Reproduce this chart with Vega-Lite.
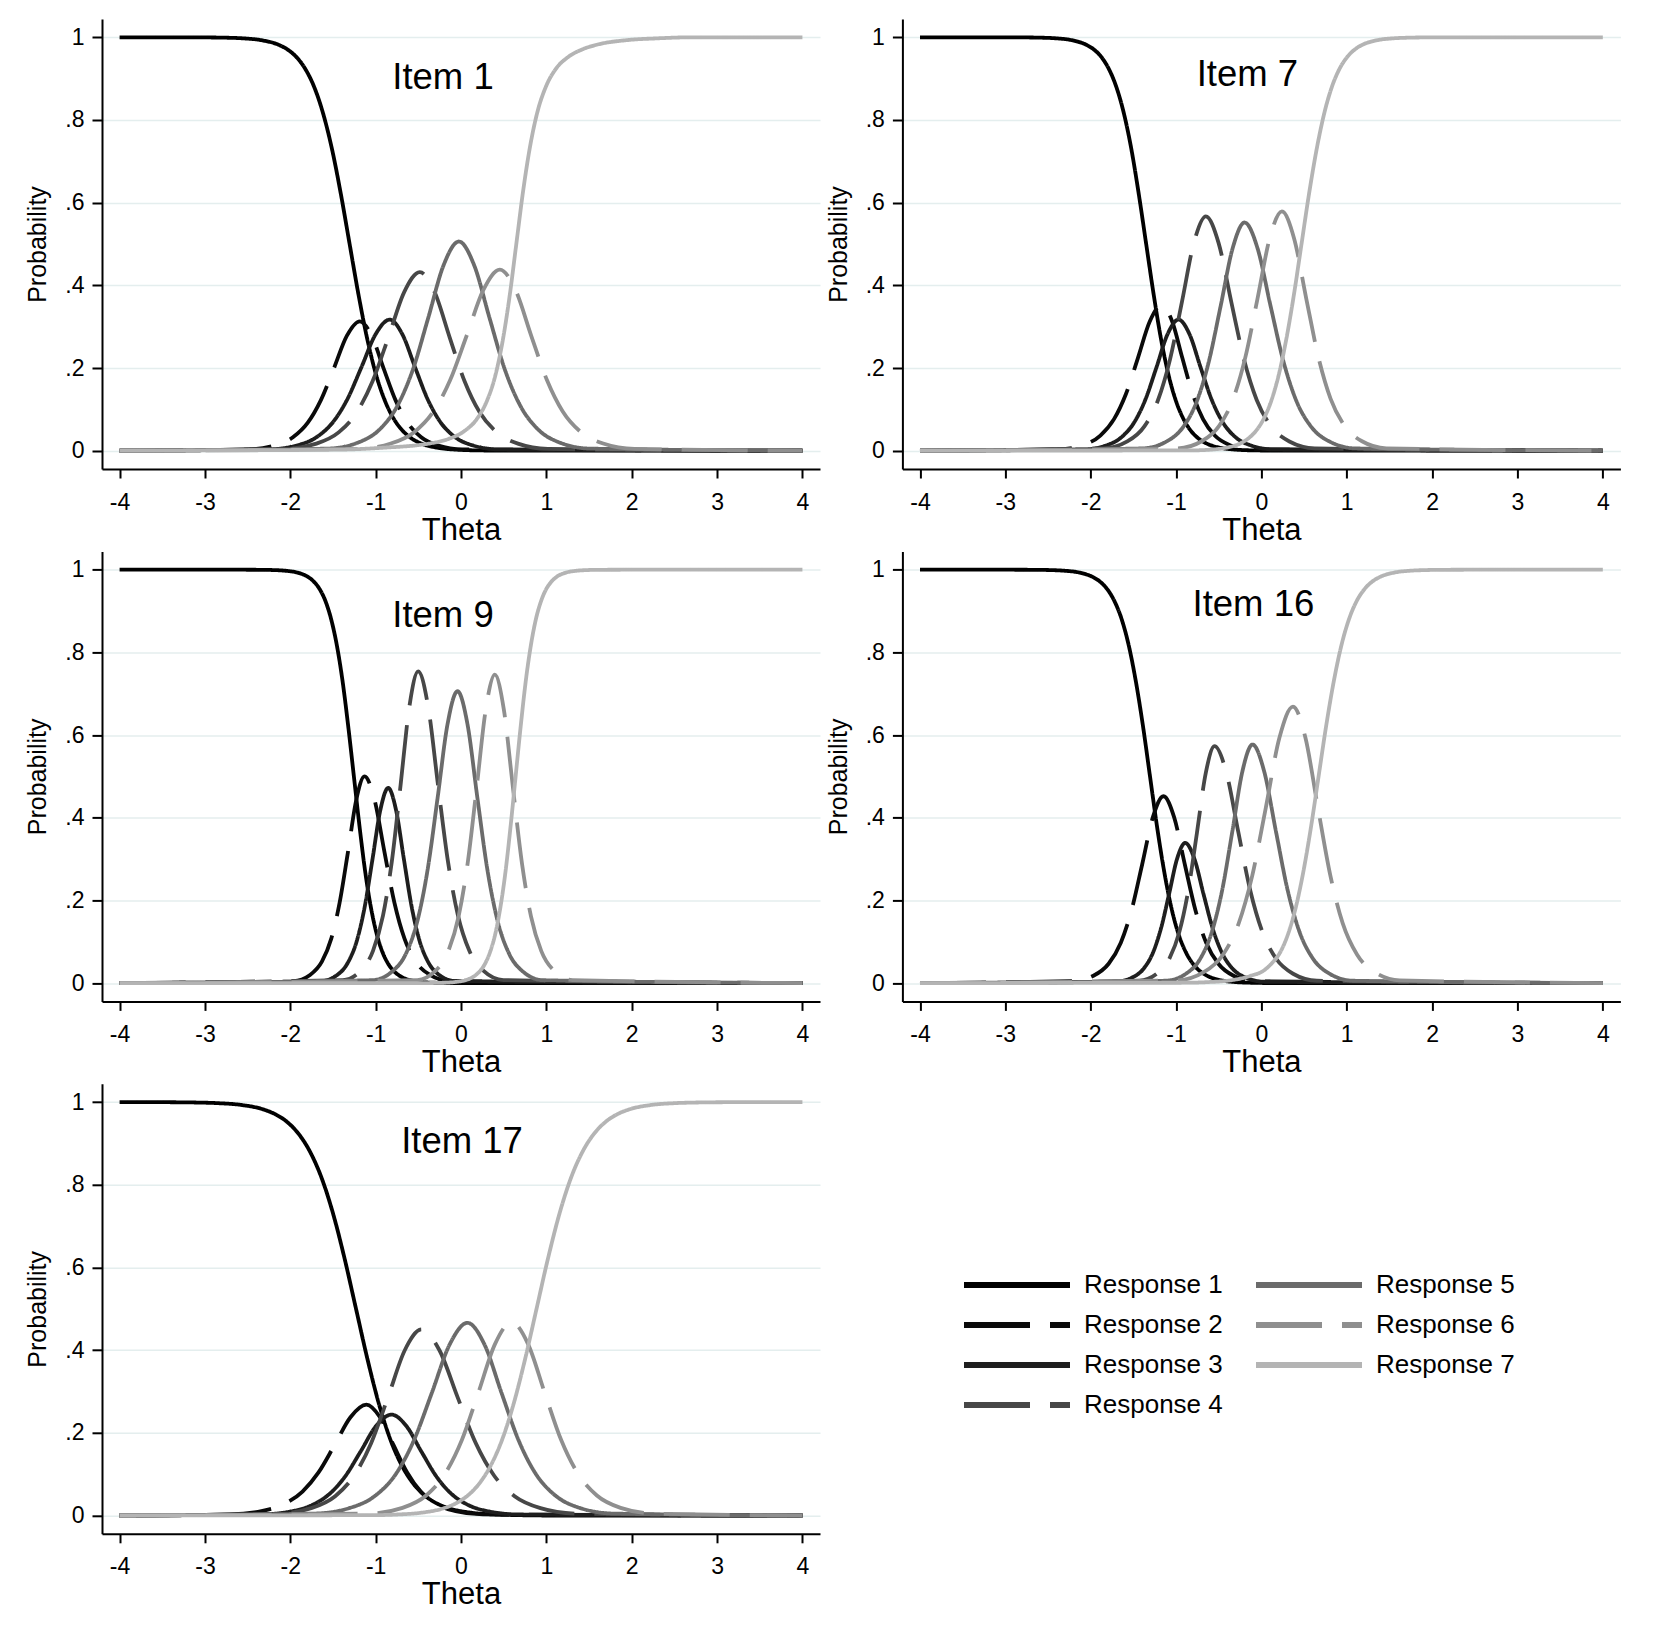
{
"$schema":"https://vega.github.io/schema/vega-lite/v6.json",
"background":"white",
"padding":{"left":25,"top":19,"right":5,"bottom":5},
"autosize":{"type":"pad"},
"columns":2,
"spacing":82.4,
"bounds":"flush",
"data":{"values":[
{"item":1,"resp":1,"theta":-4,"prob":1},{"item":1,"resp":1,"theta":-3.2,"prob":1},{"item":1,"resp":1,"theta":-2.97,"prob":0.9997},{"item":1,"resp":1,"theta":-2.763,"prob":0.9991},{"item":1,"resp":1,"theta":-2.555,"prob":0.9975},{"item":1,"resp":1,"theta":-2.347,"prob":0.9933},{"item":1,"resp":1,"theta":-2.138,"prob":0.982},{"item":1,"resp":1,"theta":-2.034,"prob":0.9707},{"item":1,"resp":1,"theta":-1.93,"prob":0.9526},{"item":1,"resp":1,"theta":-1.826,"prob":0.9241},{"item":1,"resp":1,"theta":-1.722,"prob":0.8808},{"item":1,"resp":1,"theta":-1.618,"prob":0.8176},{"item":1,"resp":1,"theta":-1.513,"prob":0.7311},{"item":1,"resp":1,"theta":-1.409,"prob":0.6225},{"item":1,"resp":1,"theta":-1.305,"prob":0.5},{"item":1,"resp":1,"theta":-1.201,"prob":0.3775},{"item":1,"resp":1,"theta":-1.097,"prob":0.2689},{"item":1,"resp":1,"theta":-0.993,"prob":0.1824},{"item":1,"resp":1,"theta":-0.888,"prob":0.1192},{"item":1,"resp":1,"theta":-0.784,"prob":0.0759},{"item":1,"resp":1,"theta":-0.68,"prob":0.0474},{"item":1,"resp":1,"theta":-0.576,"prob":0.0293},{"item":1,"resp":1,"theta":-0.472,"prob":0.018},{"item":1,"resp":1,"theta":-0.263,"prob":0.0067},{"item":1,"resp":1,"theta":-0.055,"prob":0.0025},{"item":1,"resp":1,"theta":0.153,"prob":0.0009},{"item":1,"resp":1,"theta":0.6,"prob":0},{"item":1,"resp":1,"theta":4,"prob":0},
{"item":1,"resp":2,"theta":-4,"prob":0},{"item":1,"resp":2,"theta":-2.49,"prob":0.0031},{"item":1,"resp":2,"theta":-2.186,"prob":0.0123},{"item":1,"resp":2,"theta":-1.969,"prob":0.0324},{"item":1,"resp":2,"theta":-1.795,"prob":0.0677},{"item":1,"resp":2,"theta":-1.643,"prob":0.1217},{"item":1,"resp":2,"theta":-1.49,"prob":0.1987},{"item":1,"resp":2,"theta":-1.338,"prob":0.2776},{"item":1,"resp":2,"theta":-1.186,"prob":0.313},{"item":1,"resp":2,"theta":-1.046,"prob":0.2776},{"item":1,"resp":2,"theta":-0.906,"prob":0.1987},{"item":1,"resp":2,"theta":-0.766,"prob":0.1217},{"item":1,"resp":2,"theta":-0.626,"prob":0.0677},{"item":1,"resp":2,"theta":-0.466,"prob":0.0324},{"item":1,"resp":2,"theta":-0.266,"prob":0.0123},{"item":1,"resp":2,"theta":0.014,"prob":0.0031},{"item":1,"resp":2,"theta":4,"prob":0},
{"item":1,"resp":3,"theta":-4,"prob":0},{"item":1,"resp":3,"theta":-2.264,"prob":0.0031},{"item":1,"resp":3,"theta":-1.93,"prob":0.0125},{"item":1,"resp":3,"theta":-1.692,"prob":0.0328},{"item":1,"resp":3,"theta":-1.502,"prob":0.0685},{"item":1,"resp":3,"theta":-1.335,"prob":0.1232},{"item":1,"resp":3,"theta":-1.168,"prob":0.2012},{"item":1,"resp":3,"theta":-1.002,"prob":0.2811},{"item":1,"resp":3,"theta":-0.835,"prob":0.317},{"item":1,"resp":3,"theta":-0.686,"prob":0.2811},{"item":1,"resp":3,"theta":-0.537,"prob":0.2012},{"item":1,"resp":3,"theta":-0.388,"prob":0.1232},{"item":1,"resp":3,"theta":-0.239,"prob":0.0685},{"item":1,"resp":3,"theta":-0.069,"prob":0.0328},{"item":1,"resp":3,"theta":0.144,"prob":0.0125},{"item":1,"resp":3,"theta":0.442,"prob":0.0031},{"item":1,"resp":3,"theta":4,"prob":0},
{"item":1,"resp":4,"theta":-4,"prob":0},{"item":1,"resp":4,"theta":-2.062,"prob":0.0043},{"item":1,"resp":4,"theta":-1.694,"prob":0.017},{"item":1,"resp":4,"theta":-1.43,"prob":0.0448},{"item":1,"resp":4,"theta":-1.22,"prob":0.0934},{"item":1,"resp":4,"theta":-1.036,"prob":0.168},{"item":1,"resp":4,"theta":-0.851,"prob":0.2742},{"item":1,"resp":4,"theta":-0.667,"prob":0.3831},{"item":1,"resp":4,"theta":-0.483,"prob":0.432},{"item":1,"resp":4,"theta":-0.308,"prob":0.3831},{"item":1,"resp":4,"theta":-0.133,"prob":0.2742},{"item":1,"resp":4,"theta":0.042,"prob":0.168},{"item":1,"resp":4,"theta":0.217,"prob":0.0934},{"item":1,"resp":4,"theta":0.417,"prob":0.0448},{"item":1,"resp":4,"theta":0.667,"prob":0.017},{"item":1,"resp":4,"theta":1.017,"prob":0.0043},{"item":1,"resp":4,"theta":4,"prob":0},
{"item":1,"resp":5,"theta":-4,"prob":0},{"item":1,"resp":5,"theta":-1.563,"prob":0.005},{"item":1,"resp":5,"theta":-1.204,"prob":0.0199},{"item":1,"resp":5,"theta":-0.948,"prob":0.0524},{"item":1,"resp":5,"theta":-0.743,"prob":0.1094},{"item":1,"resp":5,"theta":-0.563,"prob":0.1967},{"item":1,"resp":5,"theta":-0.384,"prob":0.3212},{"item":1,"resp":5,"theta":-0.204,"prob":0.4487},{"item":1,"resp":5,"theta":-0.025,"prob":0.506},{"item":1,"resp":5,"theta":0.154,"prob":0.4487},{"item":1,"resp":5,"theta":0.334,"prob":0.3212},{"item":1,"resp":5,"theta":0.513,"prob":0.1967},{"item":1,"resp":5,"theta":0.693,"prob":0.1094},{"item":1,"resp":5,"theta":0.898,"prob":0.0524},{"item":1,"resp":5,"theta":1.154,"prob":0.0199},{"item":1,"resp":5,"theta":1.513,"prob":0.005},{"item":1,"resp":5,"theta":4,"prob":0},
{"item":1,"resp":6,"theta":-4,"prob":0},{"item":1,"resp":6,"theta":-1.212,"prob":0.0043},{"item":1,"resp":6,"theta":-0.823,"prob":0.0173},{"item":1,"resp":6,"theta":-0.545,"prob":0.0454},{"item":1,"resp":6,"theta":-0.323,"prob":0.0947},{"item":1,"resp":6,"theta":-0.128,"prob":0.1703},{"item":1,"resp":6,"theta":0.066,"prob":0.278},{"item":1,"resp":6,"theta":0.261,"prob":0.3884},{"item":1,"resp":6,"theta":0.455,"prob":0.438},{"item":1,"resp":6,"theta":0.639,"prob":0.3884},{"item":1,"resp":6,"theta":0.823,"prob":0.278},{"item":1,"resp":6,"theta":1.008,"prob":0.1703},{"item":1,"resp":6,"theta":1.192,"prob":0.0947},{"item":1,"resp":6,"theta":1.402,"prob":0.0454},{"item":1,"resp":6,"theta":1.666,"prob":0.0173},{"item":1,"resp":6,"theta":2.034,"prob":0.0043},{"item":1,"resp":6,"theta":4,"prob":0},
{"item":1,"resp":7,"theta":-4,"prob":0},{"item":1,"resp":7,"theta":-1.45,"prob":0.0025},{"item":1,"resp":7,"theta":-0.952,"prob":0.0067},{"item":1,"resp":7,"theta":-0.352,"prob":0.018},{"item":1,"resp":7,"theta":-0.135,"prob":0.0293},{"item":1,"resp":7,"theta":0.039,"prob":0.0474},{"item":1,"resp":7,"theta":0.183,"prob":0.0759},{"item":1,"resp":7,"theta":0.301,"prob":0.1192},{"item":1,"resp":7,"theta":0.403,"prob":0.1824},{"item":1,"resp":7,"theta":0.491,"prob":0.2689},{"item":1,"resp":7,"theta":0.572,"prob":0.3775},{"item":1,"resp":7,"theta":0.648,"prob":0.5},{"item":1,"resp":7,"theta":0.724,"prob":0.6225},{"item":1,"resp":7,"theta":0.805,"prob":0.7311},{"item":1,"resp":7,"theta":0.893,"prob":0.8176},{"item":1,"resp":7,"theta":0.995,"prob":0.8808},{"item":1,"resp":7,"theta":1.113,"prob":0.9241},{"item":1,"resp":7,"theta":1.257,"prob":0.9526},{"item":1,"resp":7,"theta":1.42,"prob":0.9707},{"item":1,"resp":7,"theta":1.59,"prob":0.982},{"item":1,"resp":7,"theta":1.95,"prob":0.9933},{"item":1,"resp":7,"theta":2.3,"prob":0.9975},{"item":1,"resp":7,"theta":2.7,"prob":1},{"item":1,"resp":7,"theta":4,"prob":1},
{"item":7,"resp":1,"theta":-4,"prob":1},{"item":7,"resp":1,"theta":-3,"prob":1},{"item":7,"resp":1,"theta":-2.753,"prob":0.9997},{"item":7,"resp":1,"theta":-2.578,"prob":0.9991},{"item":7,"resp":1,"theta":-2.403,"prob":0.9975},{"item":7,"resp":1,"theta":-2.227,"prob":0.9933},{"item":7,"resp":1,"theta":-2.052,"prob":0.982},{"item":7,"resp":1,"theta":-1.964,"prob":0.9707},{"item":7,"resp":1,"theta":-1.876,"prob":0.9526},{"item":7,"resp":1,"theta":-1.789,"prob":0.9241},{"item":7,"resp":1,"theta":-1.701,"prob":0.8808},{"item":7,"resp":1,"theta":-1.613,"prob":0.8176},{"item":7,"resp":1,"theta":-1.525,"prob":0.7311},{"item":7,"resp":1,"theta":-1.438,"prob":0.6225},{"item":7,"resp":1,"theta":-1.35,"prob":0.5},{"item":7,"resp":1,"theta":-1.262,"prob":0.3775},{"item":7,"resp":1,"theta":-1.175,"prob":0.2689},{"item":7,"resp":1,"theta":-1.087,"prob":0.1824},{"item":7,"resp":1,"theta":-0.999,"prob":0.1192},{"item":7,"resp":1,"theta":-0.911,"prob":0.0759},{"item":7,"resp":1,"theta":-0.824,"prob":0.0474},{"item":7,"resp":1,"theta":-0.736,"prob":0.0293},{"item":7,"resp":1,"theta":-0.648,"prob":0.018},{"item":7,"resp":1,"theta":-0.473,"prob":0.0067},{"item":7,"resp":1,"theta":-0.297,"prob":0.0025},{"item":7,"resp":1,"theta":-0.122,"prob":0.0009},{"item":7,"resp":1,"theta":0.3,"prob":0},{"item":7,"resp":1,"theta":4,"prob":0},
{"item":7,"resp":2,"theta":-4,"prob":0},{"item":7,"resp":2,"theta":-2.367,"prob":0.0035},{"item":7,"resp":2,"theta":-2.087,"prob":0.0139},{"item":7,"resp":2,"theta":-1.887,"prob":0.0366},{"item":7,"resp":2,"theta":-1.727,"prob":0.0763},{"item":7,"resp":2,"theta":-1.587,"prob":0.1372},{"item":7,"resp":2,"theta":-1.447,"prob":0.224},{"item":7,"resp":2,"theta":-1.307,"prob":0.313},{"item":7,"resp":2,"theta":-1.167,"prob":0.353},{"item":7,"resp":2,"theta":-1.046,"prob":0.313},{"item":7,"resp":2,"theta":-0.926,"prob":0.224},{"item":7,"resp":2,"theta":-0.805,"prob":0.1372},{"item":7,"resp":2,"theta":-0.684,"prob":0.0763},{"item":7,"resp":2,"theta":-0.546,"prob":0.0366},{"item":7,"resp":2,"theta":-0.374,"prob":0.0139},{"item":7,"resp":2,"theta":-0.133,"prob":0.0035},{"item":7,"resp":2,"theta":4,"prob":0},
{"item":7,"resp":3,"theta":-4,"prob":0},{"item":7,"resp":3,"theta":-2.082,"prob":0.0031},{"item":7,"resp":3,"theta":-1.823,"prob":0.0125},{"item":7,"resp":3,"theta":-1.638,"prob":0.0328},{"item":7,"resp":3,"theta":-1.49,"prob":0.0685},{"item":7,"resp":3,"theta":-1.36,"prob":0.1232},{"item":7,"resp":3,"theta":-1.23,"prob":0.2012},{"item":7,"resp":3,"theta":-1.101,"prob":0.2811},{"item":7,"resp":3,"theta":-0.971,"prob":0.317},{"item":7,"resp":3,"theta":-0.841,"prob":0.2811},{"item":7,"resp":3,"theta":-0.712,"prob":0.2012},{"item":7,"resp":3,"theta":-0.582,"prob":0.1232},{"item":7,"resp":3,"theta":-0.452,"prob":0.0685},{"item":7,"resp":3,"theta":-0.304,"prob":0.0328},{"item":7,"resp":3,"theta":-0.119,"prob":0.0125},{"item":7,"resp":3,"theta":0.14,"prob":0.0031},{"item":7,"resp":3,"theta":4,"prob":0},
{"item":7,"resp":4,"theta":-4,"prob":0},{"item":7,"resp":4,"theta":-1.851,"prob":0.0056},{"item":7,"resp":4,"theta":-1.571,"prob":0.0223},{"item":7,"resp":4,"theta":-1.371,"prob":0.0587},{"item":7,"resp":4,"theta":-1.211,"prob":0.1226},{"item":7,"resp":4,"theta":-1.071,"prob":0.2204},{"item":7,"resp":4,"theta":-0.931,"prob":0.3599},{"item":7,"resp":4,"theta":-0.791,"prob":0.5028},{"item":7,"resp":4,"theta":-0.651,"prob":0.567},{"item":7,"resp":4,"theta":-0.502,"prob":0.5028},{"item":7,"resp":4,"theta":-0.353,"prob":0.3599},{"item":7,"resp":4,"theta":-0.204,"prob":0.2204},{"item":7,"resp":4,"theta":-0.055,"prob":0.1226},{"item":7,"resp":4,"theta":0.115,"prob":0.0587},{"item":7,"resp":4,"theta":0.328,"prob":0.0223},{"item":7,"resp":4,"theta":0.626,"prob":0.0056},{"item":7,"resp":4,"theta":4,"prob":0},
{"item":7,"resp":5,"theta":-4,"prob":0},{"item":7,"resp":5,"theta":-1.397,"prob":0.0054},{"item":7,"resp":5,"theta":-1.117,"prob":0.0217},{"item":7,"resp":5,"theta":-0.917,"prob":0.0572},{"item":7,"resp":5,"theta":-0.757,"prob":0.1193},{"item":7,"resp":5,"theta":-0.617,"prob":0.2146},{"item":7,"resp":5,"theta":-0.477,"prob":0.3504},{"item":7,"resp":5,"theta":-0.337,"prob":0.4895},{"item":7,"resp":5,"theta":-0.197,"prob":0.552},{"item":7,"resp":5,"theta":-0.045,"prob":0.4895},{"item":7,"resp":5,"theta":0.107,"prob":0.3504},{"item":7,"resp":5,"theta":0.26,"prob":0.2146},{"item":7,"resp":5,"theta":0.412,"prob":0.1193},{"item":7,"resp":5,"theta":0.586,"prob":0.0572},{"item":7,"resp":5,"theta":0.803,"prob":0.0217},{"item":7,"resp":5,"theta":1.107,"prob":0.0054},{"item":7,"resp":5,"theta":4,"prob":0},
{"item":7,"resp":6,"theta":-4,"prob":0},{"item":7,"resp":6,"theta":-0.984,"prob":0.0057},{"item":7,"resp":6,"theta":-0.699,"prob":0.0228},{"item":7,"resp":6,"theta":-0.495,"prob":0.06},{"item":7,"resp":6,"theta":-0.331,"prob":0.1252},{"item":7,"resp":6,"theta":-0.189,"prob":0.2251},{"item":7,"resp":6,"theta":-0.046,"prob":0.3675},{"item":7,"resp":6,"theta":0.097,"prob":0.5135},{"item":7,"resp":6,"theta":0.24,"prob":0.579},{"item":7,"resp":6,"theta":0.383,"prob":0.5135},{"item":7,"resp":6,"theta":0.526,"prob":0.3675},{"item":7,"resp":6,"theta":0.669,"prob":0.2251},{"item":7,"resp":6,"theta":0.811,"prob":0.1252},{"item":7,"resp":6,"theta":0.975,"prob":0.06},{"item":7,"resp":6,"theta":1.179,"prob":0.0228},{"item":7,"resp":6,"theta":1.464,"prob":0.0057},{"item":7,"resp":6,"theta":4,"prob":0},
{"item":7,"resp":7,"theta":-4,"prob":0},{"item":7,"resp":7,"theta":-0.78,"prob":0.0009},{"item":7,"resp":7,"theta":-0.601,"prob":0.0025},{"item":7,"resp":7,"theta":-0.423,"prob":0.0067},{"item":7,"resp":7,"theta":-0.244,"prob":0.018},{"item":7,"resp":7,"theta":-0.155,"prob":0.0293},{"item":7,"resp":7,"theta":-0.066,"prob":0.0474},{"item":7,"resp":7,"theta":0.024,"prob":0.0759},{"item":7,"resp":7,"theta":0.113,"prob":0.1192},{"item":7,"resp":7,"theta":0.202,"prob":0.1824},{"item":7,"resp":7,"theta":0.291,"prob":0.2689},{"item":7,"resp":7,"theta":0.381,"prob":0.3775},{"item":7,"resp":7,"theta":0.47,"prob":0.5},{"item":7,"resp":7,"theta":0.559,"prob":0.6225},{"item":7,"resp":7,"theta":0.649,"prob":0.7311},{"item":7,"resp":7,"theta":0.738,"prob":0.8176},{"item":7,"resp":7,"theta":0.827,"prob":0.8808},{"item":7,"resp":7,"theta":0.916,"prob":0.9241},{"item":7,"resp":7,"theta":1.006,"prob":0.9526},{"item":7,"resp":7,"theta":1.095,"prob":0.9707},{"item":7,"resp":7,"theta":1.184,"prob":0.982},{"item":7,"resp":7,"theta":1.363,"prob":0.9933},{"item":7,"resp":7,"theta":1.541,"prob":0.9975},{"item":7,"resp":7,"theta":1.72,"prob":0.9991},{"item":7,"resp":7,"theta":1.899,"prob":0.9997},{"item":7,"resp":7,"theta":2.3,"prob":1},{"item":7,"resp":7,"theta":4,"prob":1},
{"item":9,"resp":1,"theta":-4,"prob":1},{"item":9,"resp":1,"theta":-2.6,"prob":1},{"item":9,"resp":1,"theta":-2.322,"prob":0.9997},{"item":9,"resp":1,"theta":-2.188,"prob":0.9991},{"item":9,"resp":1,"theta":-2.055,"prob":0.9975},{"item":9,"resp":1,"theta":-1.922,"prob":0.9933},{"item":9,"resp":1,"theta":-1.788,"prob":0.982},{"item":9,"resp":1,"theta":-1.722,"prob":0.9707},{"item":9,"resp":1,"theta":-1.655,"prob":0.9526},{"item":9,"resp":1,"theta":-1.588,"prob":0.9241},{"item":9,"resp":1,"theta":-1.522,"prob":0.8808},{"item":9,"resp":1,"theta":-1.455,"prob":0.8176},{"item":9,"resp":1,"theta":-1.388,"prob":0.7311},{"item":9,"resp":1,"theta":-1.322,"prob":0.6225},{"item":9,"resp":1,"theta":-1.255,"prob":0.5},{"item":9,"resp":1,"theta":-1.188,"prob":0.3775},{"item":9,"resp":1,"theta":-1.122,"prob":0.2689},{"item":9,"resp":1,"theta":-1.055,"prob":0.1824},{"item":9,"resp":1,"theta":-0.988,"prob":0.1192},{"item":9,"resp":1,"theta":-0.922,"prob":0.0759},{"item":9,"resp":1,"theta":-0.855,"prob":0.0474},{"item":9,"resp":1,"theta":-0.788,"prob":0.0293},{"item":9,"resp":1,"theta":-0.722,"prob":0.018},{"item":9,"resp":1,"theta":-0.588,"prob":0.0067},{"item":9,"resp":1,"theta":-0.455,"prob":0.0025},{"item":9,"resp":1,"theta":-0.322,"prob":0.0009},{"item":9,"resp":1,"theta":0,"prob":0},{"item":9,"resp":1,"theta":4,"prob":0},
{"item":9,"resp":2,"theta":-4,"prob":0},{"item":9,"resp":2,"theta":-1.963,"prob":0.0049},{"item":9,"resp":2,"theta":-1.769,"prob":0.0197},{"item":9,"resp":2,"theta":-1.63,"prob":0.0518},{"item":9,"resp":2,"theta":-1.519,"prob":0.1081},{"item":9,"resp":2,"theta":-1.422,"prob":0.1944},{"item":9,"resp":2,"theta":-1.324,"prob":0.3174},{"item":9,"resp":2,"theta":-1.227,"prob":0.4434},{"item":9,"resp":2,"theta":-1.13,"prob":0.5},{"item":9,"resp":2,"theta":-1.013,"prob":0.4434},{"item":9,"resp":2,"theta":-0.897,"prob":0.3174},{"item":9,"resp":2,"theta":-0.78,"prob":0.1944},{"item":9,"resp":2,"theta":-0.663,"prob":0.1081},{"item":9,"resp":2,"theta":-0.53,"prob":0.0518},{"item":9,"resp":2,"theta":-0.363,"prob":0.0197},{"item":9,"resp":2,"theta":-0.13,"prob":0.0049},{"item":9,"resp":2,"theta":4,"prob":0},
{"item":9,"resp":3,"theta":-4,"prob":0},{"item":9,"resp":3,"theta":-1.642,"prob":0.0047},{"item":9,"resp":3,"theta":-1.458,"prob":0.0186},{"item":9,"resp":3,"theta":-1.327,"prob":0.0489},{"item":9,"resp":3,"theta":-1.221,"prob":0.102},{"item":9,"resp":3,"theta":-1.129,"prob":0.1835},{"item":9,"resp":3,"theta":-1.037,"prob":0.2996},{"item":9,"resp":3,"theta":-0.945,"prob":0.4186},{"item":9,"resp":3,"theta":-0.853,"prob":0.472},{"item":9,"resp":3,"theta":-0.761,"prob":0.4186},{"item":9,"resp":3,"theta":-0.669,"prob":0.2996},{"item":9,"resp":3,"theta":-0.577,"prob":0.1835},{"item":9,"resp":3,"theta":-0.485,"prob":0.102},{"item":9,"resp":3,"theta":-0.379,"prob":0.0489},{"item":9,"resp":3,"theta":-0.248,"prob":0.0186},{"item":9,"resp":3,"theta":-0.064,"prob":0.0047},{"item":9,"resp":3,"theta":4,"prob":0},
{"item":9,"resp":4,"theta":-4,"prob":0},{"item":9,"resp":4,"theta":-1.384,"prob":0.0074},{"item":9,"resp":4,"theta":-1.178,"prob":0.0297},{"item":9,"resp":4,"theta":-1.031,"prob":0.0781},{"item":9,"resp":4,"theta":-0.914,"prob":0.163},{"item":9,"resp":4,"theta":-0.811,"prob":0.2932},{"item":9,"resp":4,"theta":-0.708,"prob":0.4786},{"item":9,"resp":4,"theta":-0.605,"prob":0.6686},{"item":9,"resp":4,"theta":-0.502,"prob":0.754},{"item":9,"resp":4,"theta":-0.385,"prob":0.6686},{"item":9,"resp":4,"theta":-0.269,"prob":0.4786},{"item":9,"resp":4,"theta":-0.152,"prob":0.2932},{"item":9,"resp":4,"theta":-0.035,"prob":0.163},{"item":9,"resp":4,"theta":0.098,"prob":0.0781},{"item":9,"resp":4,"theta":0.265,"prob":0.0297},{"item":9,"resp":4,"theta":0.498,"prob":0.0074},{"item":9,"resp":4,"theta":4,"prob":0},
{"item":9,"resp":5,"theta":-4,"prob":0},{"item":9,"resp":5,"theta":-1.041,"prob":0.007},{"item":9,"resp":5,"theta":-0.808,"prob":0.0278},{"item":9,"resp":5,"theta":-0.641,"prob":0.0731},{"item":9,"resp":5,"theta":-0.508,"prob":0.1526},{"item":9,"resp":5,"theta":-0.391,"prob":0.2745},{"item":9,"resp":5,"theta":-0.274,"prob":0.4481},{"item":9,"resp":5,"theta":-0.158,"prob":0.6261},{"item":9,"resp":5,"theta":-0.041,"prob":0.706},{"item":9,"resp":5,"theta":0.076,"prob":0.6261},{"item":9,"resp":5,"theta":0.192,"prob":0.4481},{"item":9,"resp":5,"theta":0.309,"prob":0.2745},{"item":9,"resp":5,"theta":0.426,"prob":0.1526},{"item":9,"resp":5,"theta":0.559,"prob":0.0731},{"item":9,"resp":5,"theta":0.726,"prob":0.0278},{"item":9,"resp":5,"theta":0.959,"prob":0.007},{"item":9,"resp":5,"theta":4,"prob":0},
{"item":9,"resp":6,"theta":-4,"prob":0},{"item":9,"resp":6,"theta":-0.513,"prob":0.0074},{"item":9,"resp":6,"theta":-0.301,"prob":0.0294},{"item":9,"resp":6,"theta":-0.149,"prob":0.0773},{"item":9,"resp":6,"theta":-0.028,"prob":0.1613},{"item":9,"resp":6,"theta":0.078,"prob":0.29},{"item":9,"resp":6,"theta":0.184,"prob":0.4735},{"item":9,"resp":6,"theta":0.29,"prob":0.6615},{"item":9,"resp":6,"theta":0.396,"prob":0.746},{"item":9,"resp":6,"theta":0.502,"prob":0.6615},{"item":9,"resp":6,"theta":0.608,"prob":0.4735},{"item":9,"resp":6,"theta":0.714,"prob":0.29},{"item":9,"resp":6,"theta":0.82,"prob":0.1613},{"item":9,"resp":6,"theta":0.941,"prob":0.0773},{"item":9,"resp":6,"theta":1.093,"prob":0.0294},{"item":9,"resp":6,"theta":1.305,"prob":0.0074},{"item":9,"resp":6,"theta":4,"prob":0},
{"item":9,"resp":7,"theta":-4,"prob":0},{"item":9,"resp":7,"theta":-0.5,"prob":0},{"item":9,"resp":7,"theta":-0.193,"prob":0.0009},{"item":9,"resp":7,"theta":-0.074,"prob":0.0025},{"item":9,"resp":7,"theta":0.045,"prob":0.0067},{"item":9,"resp":7,"theta":0.164,"prob":0.018},{"item":9,"resp":7,"theta":0.223,"prob":0.0293},{"item":9,"resp":7,"theta":0.283,"prob":0.0474},{"item":9,"resp":7,"theta":0.342,"prob":0.0759},{"item":9,"resp":7,"theta":0.402,"prob":0.1192},{"item":9,"resp":7,"theta":0.461,"prob":0.1824},{"item":9,"resp":7,"theta":0.521,"prob":0.2689},{"item":9,"resp":7,"theta":0.58,"prob":0.3775},{"item":9,"resp":7,"theta":0.64,"prob":0.5},{"item":9,"resp":7,"theta":0.7,"prob":0.6225},{"item":9,"resp":7,"theta":0.759,"prob":0.7311},{"item":9,"resp":7,"theta":0.819,"prob":0.8176},{"item":9,"resp":7,"theta":0.878,"prob":0.8808},{"item":9,"resp":7,"theta":0.938,"prob":0.9241},{"item":9,"resp":7,"theta":0.997,"prob":0.9526},{"item":9,"resp":7,"theta":1.057,"prob":0.9707},{"item":9,"resp":7,"theta":1.116,"prob":0.982},{"item":9,"resp":7,"theta":1.235,"prob":0.9933},{"item":9,"resp":7,"theta":1.354,"prob":0.9975},{"item":9,"resp":7,"theta":1.473,"prob":0.9991},{"item":9,"resp":7,"theta":1.592,"prob":0.9997},{"item":9,"resp":7,"theta":2,"prob":1},{"item":9,"resp":7,"theta":4,"prob":1},
{"item":16,"resp":1,"theta":-4,"prob":1},{"item":16,"resp":1,"theta":-3,"prob":1},{"item":16,"resp":1,"theta":-2.638,"prob":0.9997},{"item":16,"resp":1,"theta":-2.472,"prob":0.9991},{"item":16,"resp":1,"theta":-2.305,"prob":0.9975},{"item":16,"resp":1,"theta":-2.138,"prob":0.9933},{"item":16,"resp":1,"theta":-1.972,"prob":0.982},{"item":16,"resp":1,"theta":-1.888,"prob":0.9707},{"item":16,"resp":1,"theta":-1.805,"prob":0.9526},{"item":16,"resp":1,"theta":-1.722,"prob":0.9241},{"item":16,"resp":1,"theta":-1.638,"prob":0.8808},{"item":16,"resp":1,"theta":-1.555,"prob":0.8176},{"item":16,"resp":1,"theta":-1.472,"prob":0.7311},{"item":16,"resp":1,"theta":-1.388,"prob":0.6225},{"item":16,"resp":1,"theta":-1.305,"prob":0.5},{"item":16,"resp":1,"theta":-1.222,"prob":0.3775},{"item":16,"resp":1,"theta":-1.138,"prob":0.2689},{"item":16,"resp":1,"theta":-1.055,"prob":0.1824},{"item":16,"resp":1,"theta":-0.972,"prob":0.1192},{"item":16,"resp":1,"theta":-0.888,"prob":0.0759},{"item":16,"resp":1,"theta":-0.805,"prob":0.0474},{"item":16,"resp":1,"theta":-0.722,"prob":0.0293},{"item":16,"resp":1,"theta":-0.638,"prob":0.018},{"item":16,"resp":1,"theta":-0.472,"prob":0.0067},{"item":16,"resp":1,"theta":-0.305,"prob":0.0025},{"item":16,"resp":1,"theta":-0.138,"prob":0.0009},{"item":16,"resp":1,"theta":0.2,"prob":0},{"item":16,"resp":1,"theta":4,"prob":0},
{"item":16,"resp":2,"theta":-4,"prob":0},{"item":16,"resp":2,"theta":-2.218,"prob":0.0045},{"item":16,"resp":2,"theta":-1.968,"prob":0.0178},{"item":16,"resp":2,"theta":-1.79,"prob":0.0468},{"item":16,"resp":2,"theta":-1.647,"prob":0.0977},{"item":16,"resp":2,"theta":-1.522,"prob":0.1757},{"item":16,"resp":2,"theta":-1.397,"prob":0.2869},{"item":16,"resp":2,"theta":-1.272,"prob":0.4008},{"item":16,"resp":2,"theta":-1.147,"prob":0.452},{"item":16,"resp":2,"theta":-1.022,"prob":0.4008},{"item":16,"resp":2,"theta":-0.897,"prob":0.2869},{"item":16,"resp":2,"theta":-0.772,"prob":0.1757},{"item":16,"resp":2,"theta":-0.647,"prob":0.0977},{"item":16,"resp":2,"theta":-0.504,"prob":0.0468},{"item":16,"resp":2,"theta":-0.326,"prob":0.0178},{"item":16,"resp":2,"theta":-0.076,"prob":0.0045},{"item":16,"resp":2,"theta":4,"prob":0},
{"item":16,"resp":3,"theta":-4,"prob":0},{"item":16,"resp":3,"theta":-1.704,"prob":0.0033},{"item":16,"resp":3,"theta":-1.515,"prob":0.0134},{"item":16,"resp":3,"theta":-1.379,"prob":0.0351},{"item":16,"resp":3,"theta":-1.271,"prob":0.0733},{"item":16,"resp":3,"theta":-1.177,"prob":0.1318},{"item":16,"resp":3,"theta":-1.082,"prob":0.2152},{"item":16,"resp":3,"theta":-0.988,"prob":0.3006},{"item":16,"resp":3,"theta":-0.893,"prob":0.339},{"item":16,"resp":3,"theta":-0.785,"prob":0.3006},{"item":16,"resp":3,"theta":-0.678,"prob":0.2152},{"item":16,"resp":3,"theta":-0.57,"prob":0.1318},{"item":16,"resp":3,"theta":-0.462,"prob":0.0733},{"item":16,"resp":3,"theta":-0.339,"prob":0.0351},{"item":16,"resp":3,"theta":-0.185,"prob":0.0134},{"item":16,"resp":3,"theta":0.03,"prob":0.0033},{"item":16,"resp":3,"theta":4,"prob":0},
{"item":16,"resp":4,"theta":-4,"prob":0},{"item":16,"resp":4,"theta":-1.431,"prob":0.0057},{"item":16,"resp":4,"theta":-1.225,"prob":0.0226},{"item":16,"resp":4,"theta":-1.078,"prob":0.0594},{"item":16,"resp":4,"theta":-0.961,"prob":0.1239},{"item":16,"resp":4,"theta":-0.858,"prob":0.2228},{"item":16,"resp":4,"theta":-0.755,"prob":0.3637},{"item":16,"resp":4,"theta":-0.652,"prob":0.5081},{"item":16,"resp":4,"theta":-0.549,"prob":0.573},{"item":16,"resp":4,"theta":-0.409,"prob":0.5081},{"item":16,"resp":4,"theta":-0.269,"prob":0.3637},{"item":16,"resp":4,"theta":-0.129,"prob":0.2228},{"item":16,"resp":4,"theta":0.011,"prob":0.1239},{"item":16,"resp":4,"theta":0.171,"prob":0.0594},{"item":16,"resp":4,"theta":0.371,"prob":0.0226},{"item":16,"resp":4,"theta":0.651,"prob":0.0057},{"item":16,"resp":4,"theta":4,"prob":0},
{"item":16,"resp":5,"theta":-4,"prob":0},{"item":16,"resp":5,"theta":-1.121,"prob":0.0057},{"item":16,"resp":5,"theta":-0.884,"prob":0.0227},{"item":16,"resp":5,"theta":-0.714,"prob":0.0598},{"item":16,"resp":5,"theta":-0.579,"prob":0.1247},{"item":16,"resp":5,"theta":-0.46,"prob":0.2243},{"item":16,"resp":5,"theta":-0.341,"prob":0.3662},{"item":16,"resp":5,"theta":-0.223,"prob":0.5117},{"item":16,"resp":5,"theta":-0.104,"prob":0.577},{"item":16,"resp":5,"theta":0.033,"prob":0.5117},{"item":16,"resp":5,"theta":0.171,"prob":0.3662},{"item":16,"resp":5,"theta":0.308,"prob":0.2243},{"item":16,"resp":5,"theta":0.445,"prob":0.1247},{"item":16,"resp":5,"theta":0.602,"prob":0.0598},{"item":16,"resp":5,"theta":0.798,"prob":0.0227},{"item":16,"resp":5,"theta":1.072,"prob":0.0057},{"item":16,"resp":5,"theta":4,"prob":0},
{"item":16,"resp":6,"theta":-4,"prob":0},{"item":16,"resp":6,"theta":-0.994,"prob":0.0066},{"item":16,"resp":6,"theta":-0.675,"prob":0.0264},{"item":16,"resp":6,"theta":-0.448,"prob":0.0693},{"item":16,"resp":6,"theta":-0.266,"prob":0.1446},{"item":16,"resp":6,"theta":-0.107,"prob":0.2601},{"item":16,"resp":6,"theta":0.052,"prob":0.4246},{"item":16,"resp":6,"theta":0.211,"prob":0.5933},{"item":16,"resp":6,"theta":0.37,"prob":0.669},{"item":16,"resp":6,"theta":0.516,"prob":0.5933},{"item":16,"resp":6,"theta":0.662,"prob":0.4246},{"item":16,"resp":6,"theta":0.808,"prob":0.2601},{"item":16,"resp":6,"theta":0.953,"prob":0.1446},{"item":16,"resp":6,"theta":1.12,"prob":0.0693},{"item":16,"resp":6,"theta":1.328,"prob":0.0264},{"item":16,"resp":6,"theta":1.62,"prob":0.0066},{"item":16,"resp":6,"theta":4,"prob":0},
{"item":16,"resp":7,"theta":-4,"prob":0},{"item":16,"resp":7,"theta":-0.9,"prob":0.0009},{"item":16,"resp":7,"theta":-0.62,"prob":0.0025},{"item":16,"resp":7,"theta":-0.36,"prob":0.0067},{"item":16,"resp":7,"theta":-0.12,"prob":0.018},{"item":16,"resp":7,"theta":0.02,"prob":0.0293},{"item":16,"resp":7,"theta":0.12,"prob":0.0474},{"item":16,"resp":7,"theta":0.224,"prob":0.0759},{"item":16,"resp":7,"theta":0.313,"prob":0.1192},{"item":16,"resp":7,"theta":0.402,"prob":0.1824},{"item":16,"resp":7,"theta":0.491,"prob":0.2689},{"item":16,"resp":7,"theta":0.581,"prob":0.3775},{"item":16,"resp":7,"theta":0.67,"prob":0.5},{"item":16,"resp":7,"theta":0.759,"prob":0.6225},{"item":16,"resp":7,"theta":0.849,"prob":0.7311},{"item":16,"resp":7,"theta":0.938,"prob":0.8176},{"item":16,"resp":7,"theta":1.027,"prob":0.8808},{"item":16,"resp":7,"theta":1.116,"prob":0.9241},{"item":16,"resp":7,"theta":1.206,"prob":0.9526},{"item":16,"resp":7,"theta":1.295,"prob":0.9707},{"item":16,"resp":7,"theta":1.384,"prob":0.982},{"item":16,"resp":7,"theta":1.563,"prob":0.9933},{"item":16,"resp":7,"theta":1.741,"prob":0.9975},{"item":16,"resp":7,"theta":1.92,"prob":0.9991},{"item":16,"resp":7,"theta":2.099,"prob":0.9997},{"item":16,"resp":7,"theta":2.5,"prob":1},{"item":16,"resp":7,"theta":4,"prob":1},
{"item":17,"resp":1,"theta":-4,"prob":1},{"item":17,"resp":1,"theta":-3.6,"prob":1},{"item":17,"resp":1,"theta":-3.392,"prob":0.9997},{"item":17,"resp":1,"theta":-3.122,"prob":0.9991},{"item":17,"resp":1,"theta":-2.852,"prob":0.9975},{"item":17,"resp":1,"theta":-2.581,"prob":0.9933},{"item":17,"resp":1,"theta":-2.311,"prob":0.982},{"item":17,"resp":1,"theta":-2.176,"prob":0.9707},{"item":17,"resp":1,"theta":-2.041,"prob":0.9526},{"item":17,"resp":1,"theta":-1.906,"prob":0.9241},{"item":17,"resp":1,"theta":-1.771,"prob":0.8808},{"item":17,"resp":1,"theta":-1.635,"prob":0.8176},{"item":17,"resp":1,"theta":-1.5,"prob":0.7311},{"item":17,"resp":1,"theta":-1.365,"prob":0.6225},{"item":17,"resp":1,"theta":-1.23,"prob":0.5},{"item":17,"resp":1,"theta":-1.095,"prob":0.3775},{"item":17,"resp":1,"theta":-0.96,"prob":0.2689},{"item":17,"resp":1,"theta":-0.825,"prob":0.1824},{"item":17,"resp":1,"theta":-0.689,"prob":0.1192},{"item":17,"resp":1,"theta":-0.554,"prob":0.0759},{"item":17,"resp":1,"theta":-0.419,"prob":0.0474},{"item":17,"resp":1,"theta":-0.284,"prob":0.0293},{"item":17,"resp":1,"theta":-0.149,"prob":0.018},{"item":17,"resp":1,"theta":0.121,"prob":0.0067},{"item":17,"resp":1,"theta":0.392,"prob":0.0025},{"item":17,"resp":1,"theta":0.662,"prob":0.0009},{"item":17,"resp":1,"theta":1,"prob":0},{"item":17,"resp":1,"theta":4,"prob":0},
{"item":17,"resp":2,"theta":-4,"prob":0},{"item":17,"resp":2,"theta":-2.712,"prob":0.0026},{"item":17,"resp":2,"theta":-2.338,"prob":0.0106},{"item":17,"resp":2,"theta":-2.071,"prob":0.0278},{"item":17,"resp":2,"theta":-1.857,"prob":0.0579},{"item":17,"resp":2,"theta":-1.669,"prob":0.1042},{"item":17,"resp":2,"theta":-1.482,"prob":0.1701},{"item":17,"resp":2,"theta":-1.295,"prob":0.2377},{"item":17,"resp":2,"theta":-1.108,"prob":0.268},{"item":17,"resp":2,"theta":-0.949,"prob":0.2377},{"item":17,"resp":2,"theta":-0.79,"prob":0.1701},{"item":17,"resp":2,"theta":-0.631,"prob":0.1042},{"item":17,"resp":2,"theta":-0.472,"prob":0.0579},{"item":17,"resp":2,"theta":-0.29,"prob":0.0278},{"item":17,"resp":2,"theta":-0.063,"prob":0.0106},{"item":17,"resp":2,"theta":0.256,"prob":0.0026},{"item":17,"resp":2,"theta":4,"prob":0},
{"item":17,"resp":3,"theta":-4,"prob":0},{"item":17,"resp":3,"theta":-2.361,"prob":0.0024},{"item":17,"resp":3,"theta":-2.001,"prob":0.0096},{"item":17,"resp":3,"theta":-1.743,"prob":0.0253},{"item":17,"resp":3,"theta":-1.537,"prob":0.0528},{"item":17,"resp":3,"theta":-1.356,"prob":0.0949},{"item":17,"resp":3,"theta":-1.176,"prob":0.1549},{"item":17,"resp":3,"theta":-0.995,"prob":0.2164},{"item":17,"resp":3,"theta":-0.815,"prob":0.244},{"item":17,"resp":3,"theta":-0.64,"prob":0.2164},{"item":17,"resp":3,"theta":-0.465,"prob":0.1549},{"item":17,"resp":3,"theta":-0.29,"prob":0.0949},{"item":17,"resp":3,"theta":-0.115,"prob":0.0528},{"item":17,"resp":3,"theta":0.085,"prob":0.0253},{"item":17,"resp":3,"theta":0.335,"prob":0.0096},{"item":17,"resp":3,"theta":0.685,"prob":0.0024},{"item":17,"resp":3,"theta":4,"prob":0},
{"item":17,"resp":4,"theta":-4,"prob":0},{"item":17,"resp":4,"theta":-2.148,"prob":0.0044},{"item":17,"resp":4,"theta":-1.755,"prob":0.0177},{"item":17,"resp":4,"theta":-1.474,"prob":0.0466},{"item":17,"resp":4,"theta":-1.25,"prob":0.0973},{"item":17,"resp":4,"theta":-1.053,"prob":0.175},{"item":17,"resp":4,"theta":-0.856,"prob":0.2856},{"item":17,"resp":4,"theta":-0.66,"prob":0.3991},{"item":17,"resp":4,"theta":-0.463,"prob":0.45},{"item":17,"resp":4,"theta":-0.251,"prob":0.3991},{"item":17,"resp":4,"theta":-0.039,"prob":0.2856},{"item":17,"resp":4,"theta":0.173,"prob":0.175},{"item":17,"resp":4,"theta":0.385,"prob":0.0973},{"item":17,"resp":4,"theta":0.628,"prob":0.0466},{"item":17,"resp":4,"theta":0.931,"prob":0.0177},{"item":17,"resp":4,"theta":1.355,"prob":0.0044},{"item":17,"resp":4,"theta":4,"prob":0},
{"item":17,"resp":5,"theta":-4,"prob":0},{"item":17,"resp":5,"theta":-1.72,"prob":0.0046},{"item":17,"resp":5,"theta":-1.301,"prob":0.0184},{"item":17,"resp":5,"theta":-1.002,"prob":0.0483},{"item":17,"resp":5,"theta":-0.762,"prob":0.1007},{"item":17,"resp":5,"theta":-0.553,"prob":0.1812},{"item":17,"resp":5,"theta":-0.343,"prob":0.2958},{"item":17,"resp":5,"theta":-0.134,"prob":0.4132},{"item":17,"resp":5,"theta":0.076,"prob":0.466},{"item":17,"resp":5,"theta":0.276,"prob":0.4132},{"item":17,"resp":5,"theta":0.476,"prob":0.2958},{"item":17,"resp":5,"theta":0.676,"prob":0.1812},{"item":17,"resp":5,"theta":0.876,"prob":0.1007},{"item":17,"resp":5,"theta":1.105,"prob":0.0483},{"item":17,"resp":5,"theta":1.39,"prob":0.0184},{"item":17,"resp":5,"theta":1.79,"prob":0.0046},{"item":17,"resp":5,"theta":4,"prob":0},
{"item":17,"resp":6,"theta":-4,"prob":0},{"item":17,"resp":6,"theta":-1.075,"prob":0.0046},{"item":17,"resp":6,"theta":-0.686,"prob":0.0184},{"item":17,"resp":6,"theta":-0.408,"prob":0.0484},{"item":17,"resp":6,"theta":-0.186,"prob":0.1011},{"item":17,"resp":6,"theta":0.009,"prob":0.1818},{"item":17,"resp":6,"theta":0.203,"prob":0.2967},{"item":17,"resp":6,"theta":0.398,"prob":0.4146},{"item":17,"resp":6,"theta":0.592,"prob":0.4675},{"item":17,"resp":6,"theta":0.786,"prob":0.4146},{"item":17,"resp":6,"theta":0.981,"prob":0.2967},{"item":17,"resp":6,"theta":1.175,"prob":0.1818},{"item":17,"resp":6,"theta":1.37,"prob":0.1011},{"item":17,"resp":6,"theta":1.592,"prob":0.0484},{"item":17,"resp":6,"theta":1.87,"prob":0.0184},{"item":17,"resp":6,"theta":2.259,"prob":0.0046},{"item":17,"resp":6,"theta":4,"prob":0},
{"item":17,"resp":7,"theta":-4,"prob":0},{"item":17,"resp":7,"theta":-1.007,"prob":0.0009},{"item":17,"resp":7,"theta":-0.737,"prob":0.0025},{"item":17,"resp":7,"theta":-0.466,"prob":0.0067},{"item":17,"resp":7,"theta":-0.196,"prob":0.018},{"item":17,"resp":7,"theta":-0.061,"prob":0.0293},{"item":17,"resp":7,"theta":0.074,"prob":0.0474},{"item":17,"resp":7,"theta":0.209,"prob":0.0759},{"item":17,"resp":7,"theta":0.344,"prob":0.1192},{"item":17,"resp":7,"theta":0.48,"prob":0.1824},{"item":17,"resp":7,"theta":0.615,"prob":0.2689},{"item":17,"resp":7,"theta":0.75,"prob":0.3775},{"item":17,"resp":7,"theta":0.885,"prob":0.5},{"item":17,"resp":7,"theta":1.02,"prob":0.6225},{"item":17,"resp":7,"theta":1.155,"prob":0.7311},{"item":17,"resp":7,"theta":1.29,"prob":0.8176},{"item":17,"resp":7,"theta":1.426,"prob":0.8808},{"item":17,"resp":7,"theta":1.561,"prob":0.9241},{"item":17,"resp":7,"theta":1.696,"prob":0.9526},{"item":17,"resp":7,"theta":1.831,"prob":0.9707},{"item":17,"resp":7,"theta":1.966,"prob":0.982},{"item":17,"resp":7,"theta":2.236,"prob":0.9933},{"item":17,"resp":7,"theta":2.507,"prob":0.9975},{"item":17,"resp":7,"theta":2.777,"prob":0.9991},{"item":17,"resp":7,"theta":3.047,"prob":0.9997},{"item":17,"resp":7,"theta":3.4,"prob":1},{"item":17,"resp":7,"theta":4,"prob":1}
]},
"concat":[
{"width":718,"height":450,"title":{"text":"Item 1","dx":-18,"offset":-77},"transform":[{"filter":"datum.item == 1"}],
 "mark":{"type":"line","interpolate":"monotone","strokeWidth":3.8,"strokeCap":"butt"},
 "encoding":{
  "x":{"field":"theta","type":"quantitative","scale":{"domain":[-4.206,4.206],"nice":false,"zero":false},"axis":{"title":"Theta","values":[-4,-3,-2,-1,0,1,2,3,4],"labelExpr":"datum.value < 0 ? '-' + abs(datum.value) : '' + datum.value"}},
  "y":{"field":"prob","type":"quantitative","scale":{"domain":[-0.0443,1.0443],"nice":false,"zero":false},"axis":{"title":"Probability","values":[0,0.2,0.4,0.6,0.8,1],"labelExpr":"datum.value == 0 ? '0' : datum.value == 1 ? '1' : replace(format(datum.value, '.1f'), '0.', '.')"}},
  "color":{"field":"resp","type":"nominal","scale":{"domain":[1,2,3,4,5,6,7],"range":["#000000","#0a0a0a","#1e1e1e","#474747","#6b6b6b","#8f8f8f","#b4b4b4"]},"legend":{"title":null,"labelExpr":"'Response ' + datum.label"}},
  "strokeDash":{"field":"resp","type":"nominal","scale":{"domain":[1,2,3,4,5,6,7],"range":[[1,0],[66,20],[1,0],[66,20],[1,0],[66,20],[1,0]]},"legend":{"title":null,"labelExpr":"'Response ' + datum.label"}}
 }},
{"width":718,"height":450,"title":{"text":"Item 7","dx":-14,"offset":-74},"transform":[{"filter":"datum.item == 7"}],
 "mark":{"type":"line","interpolate":"monotone","strokeWidth":3.8,"strokeCap":"butt"},
 "encoding":{
  "x":{"field":"theta","type":"quantitative","scale":{"domain":[-4.206,4.206],"nice":false,"zero":false},"axis":{"title":"Theta","values":[-4,-3,-2,-1,0,1,2,3,4],"labelExpr":"datum.value < 0 ? '-' + abs(datum.value) : '' + datum.value"}},
  "y":{"field":"prob","type":"quantitative","scale":{"domain":[-0.0443,1.0443],"nice":false,"zero":false},"axis":{"title":"Probability","values":[0,0.2,0.4,0.6,0.8,1],"labelExpr":"datum.value == 0 ? '0' : datum.value == 1 ? '1' : replace(format(datum.value, '.1f'), '0.', '.')"}},
  "color":{"field":"resp","type":"nominal","scale":{"domain":[1,2,3,4,5,6,7],"range":["#000000","#0a0a0a","#1e1e1e","#474747","#6b6b6b","#8f8f8f","#b4b4b4"]},"legend":{"title":null,"labelExpr":"'Response ' + datum.label"}},
  "strokeDash":{"field":"resp","type":"nominal","scale":{"domain":[1,2,3,4,5,6,7],"range":[[1,0],[66,20],[1,0],[66,20],[1,0],[66,20],[1,0]]},"legend":{"title":null,"labelExpr":"'Response ' + datum.label"}}
 }},
{"width":718,"height":450,"title":{"text":"Item 9","dx":-18,"offset":-83},"transform":[{"filter":"datum.item == 9"}],
 "mark":{"type":"line","interpolate":"monotone","strokeWidth":3.8,"strokeCap":"butt"},
 "encoding":{
  "x":{"field":"theta","type":"quantitative","scale":{"domain":[-4.206,4.206],"nice":false,"zero":false},"axis":{"title":"Theta","values":[-4,-3,-2,-1,0,1,2,3,4],"labelExpr":"datum.value < 0 ? '-' + abs(datum.value) : '' + datum.value"}},
  "y":{"field":"prob","type":"quantitative","scale":{"domain":[-0.0443,1.0443],"nice":false,"zero":false},"axis":{"title":"Probability","values":[0,0.2,0.4,0.6,0.8,1],"labelExpr":"datum.value == 0 ? '0' : datum.value == 1 ? '1' : replace(format(datum.value, '.1f'), '0.', '.')"}},
  "color":{"field":"resp","type":"nominal","scale":{"domain":[1,2,3,4,5,6,7],"range":["#000000","#0a0a0a","#1e1e1e","#474747","#6b6b6b","#8f8f8f","#b4b4b4"]},"legend":{"title":null,"labelExpr":"'Response ' + datum.label"}},
  "strokeDash":{"field":"resp","type":"nominal","scale":{"domain":[1,2,3,4,5,6,7],"range":[[1,0],[66,20],[1,0],[66,20],[1,0],[66,20],[1,0]]},"legend":{"title":null,"labelExpr":"'Response ' + datum.label"}}
 }},
{"width":718,"height":450,"title":{"text":"Item 16","dx":-8,"offset":-72},"transform":[{"filter":"datum.item == 16"}],
 "mark":{"type":"line","interpolate":"monotone","strokeWidth":3.8,"strokeCap":"butt"},
 "encoding":{
  "x":{"field":"theta","type":"quantitative","scale":{"domain":[-4.206,4.206],"nice":false,"zero":false},"axis":{"title":"Theta","values":[-4,-3,-2,-1,0,1,2,3,4],"labelExpr":"datum.value < 0 ? '-' + abs(datum.value) : '' + datum.value"}},
  "y":{"field":"prob","type":"quantitative","scale":{"domain":[-0.0443,1.0443],"nice":false,"zero":false},"axis":{"title":"Probability","values":[0,0.2,0.4,0.6,0.8,1],"labelExpr":"datum.value == 0 ? '0' : datum.value == 1 ? '1' : replace(format(datum.value, '.1f'), '0.', '.')"}},
  "color":{"field":"resp","type":"nominal","scale":{"domain":[1,2,3,4,5,6,7],"range":["#000000","#0a0a0a","#1e1e1e","#474747","#6b6b6b","#8f8f8f","#b4b4b4"]},"legend":{"title":null,"labelExpr":"'Response ' + datum.label"}},
  "strokeDash":{"field":"resp","type":"nominal","scale":{"domain":[1,2,3,4,5,6,7],"range":[[1,0],[66,20],[1,0],[66,20],[1,0],[66,20],[1,0]]},"legend":{"title":null,"labelExpr":"'Response ' + datum.label"}}
 }},
{"width":718,"height":450,"title":{"text":"Item 17","dx":1,"offset":-77},"transform":[{"filter":"datum.item == 17"}],
 "mark":{"type":"line","interpolate":"monotone","strokeWidth":3.8,"strokeCap":"butt"},
 "encoding":{
  "x":{"field":"theta","type":"quantitative","scale":{"domain":[-4.206,4.206],"nice":false,"zero":false},"axis":{"title":"Theta","values":[-4,-3,-2,-1,0,1,2,3,4],"labelExpr":"datum.value < 0 ? '-' + abs(datum.value) : '' + datum.value"}},
  "y":{"field":"prob","type":"quantitative","scale":{"domain":[-0.0443,1.0443],"nice":false,"zero":false},"axis":{"title":"Probability","values":[0,0.2,0.4,0.6,0.8,1],"labelExpr":"datum.value == 0 ? '0' : datum.value == 1 ? '1' : replace(format(datum.value, '.1f'), '0.', '.')"}},
  "color":{"field":"resp","type":"nominal","scale":{"domain":[1,2,3,4,5,6,7],"range":["#000000","#0a0a0a","#1e1e1e","#474747","#6b6b6b","#8f8f8f","#b4b4b4"]},"legend":{"title":null,"labelExpr":"'Response ' + datum.label"}},
  "strokeDash":{"field":"resp","type":"nominal","scale":{"domain":[1,2,3,4,5,6,7],"range":[[1,0],[66,20],[1,0],[66,20],[1,0],[66,20],[1,0]]},"legend":{"title":null,"labelExpr":"'Response ' + datum.label"}}
 }}
],
"resolve":{"scale":{"color":"shared","strokeDash":"shared"}},
"config":{
 "font":"Liberation Sans",
 "view":{"stroke":null},
 "title":{"fontSize":36.5,"fontWeight":"normal","color":"black","frame":"group","anchor":"middle","baseline":"alphabetic","font":"Liberation Sans"},
 "axis":{"domainColor":"black","domainWidth":2,"tickColor":"black","tickWidth":2,"labelColor":"black","titleColor":"black","labelFont":"Liberation Sans","titleFont":"Liberation Sans","titleFontWeight":"normal","labelFlush":false,"labelOverlap":false},
 "axisX":{"grid":false,"tickSize":9,"labelFontSize":23,"labelPadding":13,"titleFontSize":31,"titlePadding":1},
 "axisY":{"grid":true,"gridColor":"#e4eeee","gridWidth":1.5,"tickSize":10,"labelFontSize":23,"labelPadding":8,"labelAngle":0,"titleFontSize":25,"titlePadding":14},
 "legend":{"orient":"none","legendX":859,"legendY":1246,"columns":2,"columnPadding":30,"rowPadding":0,"clipHeight":40,"symbolType":"stroke","symbolSize":11236,"symbolStrokeWidth":6,"labelFontSize":26,"labelFont":"Liberation Sans","labelColor":"black","labelOffset":11,"padding":0,"symbolOffset":0}
}
}
